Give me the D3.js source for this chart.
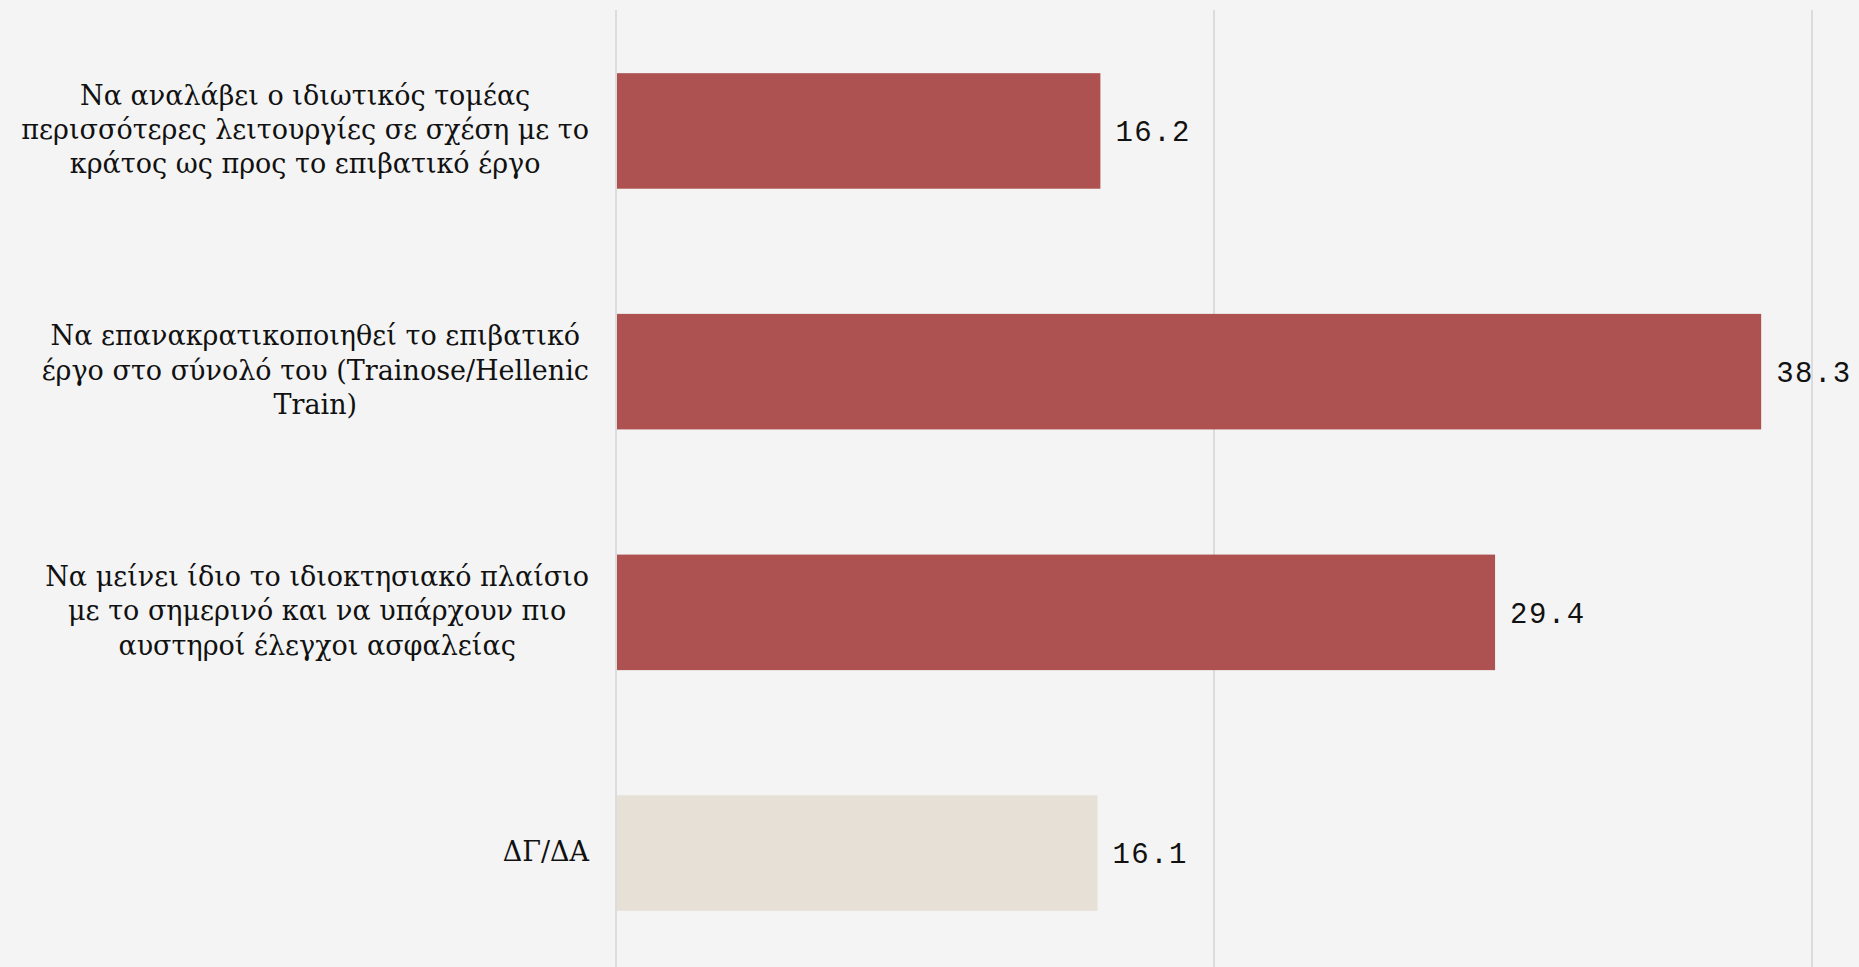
<!DOCTYPE html>
<html>
<head>
<meta charset="utf-8">
<script src="https://cdn.jsdelivr.net/npm/d3@7"></script>
<style>
  html, body { margin: 0; padding: 0; background: #f4f4f4; }
  svg { display: block; }
</style>
</head>
<body>
<svg id="chart"></svg>
<script>
const categories = [
  "Να αναλάβει ο ιδιωτικός τομέας περισσότερες λειτουργίες σε σχέση με το κράτος ως προς το επιβατικό έργο",
  "Να επανακρατικοποιηθεί το επιβατικό έργο στο σύνολό του (Trainose/Hellenic Train)",
  "Να μείνει ίδιο το ιδιοκτησιακό πλαίσιο με το σημερινό και να υπάρχουν πιο αυστηροί έλεγχοι ασφαλείας",
  "ΔΓ/ΔΑ"
];
const labelLines = [
  ["Να αναλάβει ο ιδιωτικός τομέας", "περισσότερες λειτουργίες σε σχέση με το", "κράτος ως προς το επιβατικό έργο"],
  ["Να επανακρατικοποιηθεί το επιβατικό", "έργο στο σύνολό του (Trainose/Hellenic", "Train)"],
  ["Να μείνει ίδιο το ιδιοκτησιακό πλαίσιο", "με το σημερινό και να υπάρχουν πιο", "αυστηροί έλεγχοι ασφαλείας"],
  ["ΔΓ/ΔΑ"]
];
const values = [16.2, 38.3, 29.4, 16.1];
const xTicks = [0, 20, 40];
const barColors = ["#ad5250", "#ad5250", "#ad5250", "#e6e0d7"];

const width = 1859, height = 967;
const margin = { top: 13, right: 47, bottom: -4, left: 616 };

const svg = d3.select("#chart").attr("width", width).attr("height", height);

const x = d3.scaleLinear().domain([0, 40]).range([margin.left, width - margin.right]);
const y = d3.scaleBand()
  .domain(categories)
  .range([margin.top, height - margin.bottom])
  .paddingInner(0.52)
  .paddingOuter(0.25);

// gridlines
svg.append("g")
  .selectAll("line")
  .data(xTicks)
  .join("line")
  .attr("x1", d => x(d)).attr("x2", d => x(d))
  .attr("y1", 10).attr("y2", height)
  .attr("stroke", "#dcdcdc")
  .attr("stroke-width", 2);

// bars
svg.append("g")
  .selectAll("rect")
  .data(values)
  .join("rect")
  .attr("x", x(0) + 1)
  .attr("y", (d, i) => y(categories[i]))
  .attr("width", d => x(d) - x(0) - 1)
  .attr("height", y.bandwidth())
  .attr("fill", (d, i) => barColors[i]);

// value labels
svg.append("g")
  .selectAll("text")
  .data(values)
  .join("text")
  .attr("x", d => x(d) + 15)
  .attr("y", (d, i) => y(categories[i]) + y.bandwidth() / 2)
  .attr("dy", "0.36em")
  .attr("font-family", "'Liberation Mono', 'DejaVu Sans Mono', monospace")
  .attr("font-size", 29)
  .attr("letter-spacing", 1.5)
  .attr("fill", "#111")
  .text(d => d3.format(".1f")(d));

// category labels: block right-aligned, lines centred within block
const labelRight = 589;
const lineH = 34.4;
const labels = svg.append("g")
  .attr("font-family", "'DejaVu Serif', 'Liberation Serif', serif")
  .attr("font-size", 27)
  .attr("fill", "#111");

labelLines.forEach((lines, i) => {
  const cy = y(categories[i]) + y.bandwidth() / 2;
  const g = labels.append("g");
  const texts = g.selectAll("text")
    .data(lines)
    .join("text")
    .attr("text-anchor", "middle")
    .attr("y", (d, j) => cy + (j - (lines.length - 1) / 2) * lineH)
    .attr("dy", "0.3em")
    .text(d => d);
  const maxW = d3.max(texts.nodes(), n => n.getComputedTextLength());
  texts.attr("x", labelRight - maxW / 2);
});
</script>
</body>
</html>
